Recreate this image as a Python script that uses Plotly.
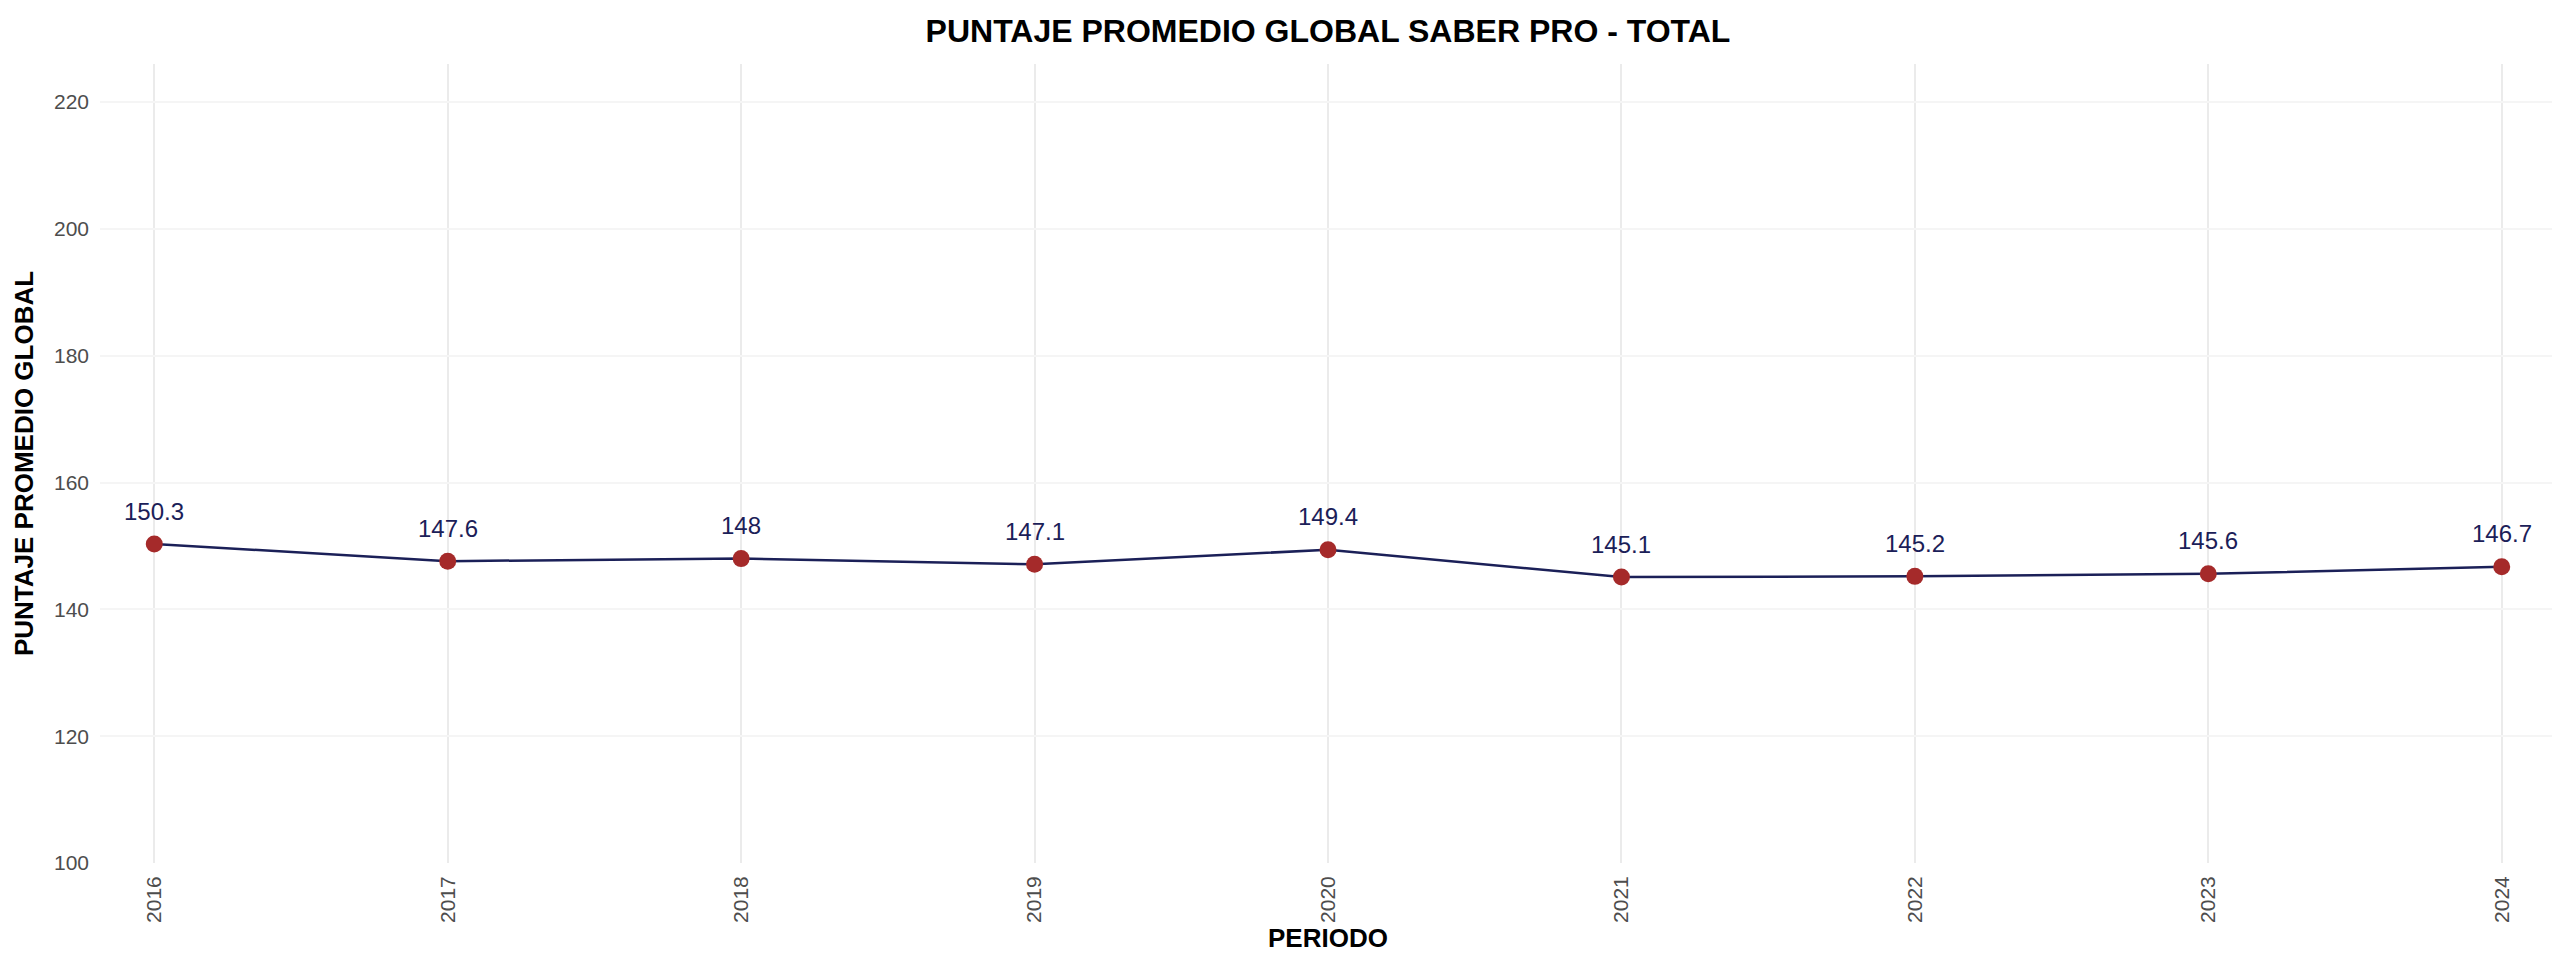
import plotly.graph_objects as go

# Saber Pro global average score by period
periodos = [2016, 2017, 2018, 2019, 2020, 2021, 2022, 2023, 2024]
puntaje = [150.3, 147.6, 148.0, 147.1, 149.4, 145.1, 145.2, 145.6, 146.7]
y_ticks = [100, 120, 140, 160, 180, 200, 220]

FONT = "Liberation Sans, Arial, sans-serif"
NAVY = "#1b2058"
BROWN = "#a52a2a"

fig = go.Figure()

fig.add_trace(go.Scatter(
    x=periodos, y=puntaje,
    mode="lines+markers",
    line=dict(color=NAVY, width=2.5),
    marker=dict(color=BROWN, size=17),
    showlegend=False,
))

# labels above each point
for x, y in zip(periodos, puntaje):
    fig.add_annotation(
        x=x, y=y, text=f"{y:g}", showarrow=False,
        yshift=33, font=dict(family=FONT, size=24, color=NAVY),
    )

fig.update_layout(
    width=2560, height=960,
    paper_bgcolor="white", plot_bgcolor="white",
    margin=dict(l=92, r=12, t=56, b=105),
    title=dict(
        text="<b>PUNTAJE PROMEDIO GLOBAL SABER PRO - TOTAL</b>",
        x=0.5, xref="paper", xanchor="center",
        y=1 - 23 / 960, yref="container", yanchor="middle",
        font=dict(family=FONT, size=32, color="black"),
    ),
)

fig.update_xaxes(
    range=[2015.815, 2024.185],
    tickvals=periodos, ticktext=[str(p) for p in periodos],
    tickangle=-90, ticklabelstandoff=8,
    tickfont=dict(family=FONT, size=21, color="#4d4d4d"),
    showgrid=True, gridcolor="#ebebeb", gridwidth=2,
    zeroline=False, showline=False, ticks="",
    title=dict(text="<b>PERIODO</b>", font=dict(family=FONT, size=26, color="black"), standoff=4),
)

fig.update_yaxes(
    range=[100, 226],
    tickvals=y_ticks, ticklabelstandoff=10,
    tickfont=dict(family=FONT, size=21, color="#4d4d4d"),
    showgrid=True, gridcolor="#f5f5f5", gridwidth=2,
    zeroline=False, showline=False, ticks="",
    title=dict(text="<b>PUNTAJE PROMEDIO GLOBAL</b>", font=dict(family=FONT, size=26, color="black"), standoff=12),
)

fig.write_html("out.html")
